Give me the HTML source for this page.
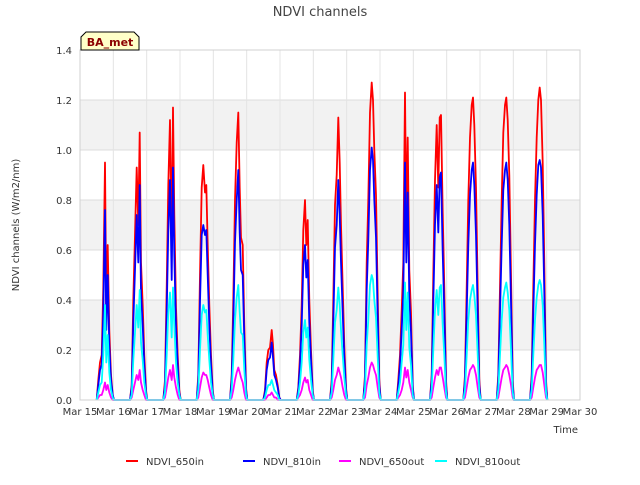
<!DOCTYPE html>
<html><head><meta charset="utf-8"><style>
body{margin:0;background:#fff;font-family:"Liberation Sans","DejaVu Sans",sans-serif}
svg text{font-family:"DejaVu Sans","Liberation Sans",sans-serif}
</style></head><body>
<svg id="chart" width="640" height="480">
<rect x="0" y="0" width="640" height="480" fill="#fff"/>
<text x="320" y="16" text-anchor="middle" font-size="13" fill="#444">NDVI channels</text>
<g id="grid"></g>
<g id="series"></g>
<g id="axes"></g>
<text x="19" y="225" transform="rotate(-90 19 225)" text-anchor="middle" font-size="10" fill="#333">NDVI channels (W/m2/nm)</text>
<text x="578" y="433" text-anchor="end" font-size="10" fill="#333">Time</text>
<g>
<path d="M81,50 L81,37 L86,32 L134,32 L139,37 L139,50 Z" fill="#ffffc8" stroke="#000" stroke-width="1"/>
<text x="110" y="46" text-anchor="middle" font-size="11" font-weight="bold" fill="#8b0000">BA_met</text>
</g>
<g id="legend"></g>
</svg>
<script>
const dayStarts=[15,16,17,18,19,20,21,22,23,24,25,26,27,28];
const offsets=[0.50,0.55,0.60,0.65,0.70,0.75,0.79,0.83,0.88,0.93,0.98,1.02];
const ndvi650in=[
[0,0.08,0.15,0.18,0.45,0.95,0.35,0.62,0.28,0.10,0.02,0],
[0,0.06,0.40,0.66,0.93,0.70,1.07,0.55,0.38,0.18,0.04,0],
[0,0.08,0.45,0.86,1.12,0.60,1.17,0.74,0.37,0.18,0.04,0],
[0,0.10,0.50,0.85,0.94,0.83,0.86,0.62,0.38,0.18,0.04,0],
[0,0.10,0.40,0.80,1.03,1.15,0.85,0.65,0.62,0.30,0.05,0],
[0,0.04,0.15,0.20,0.21,0.28,0.22,0.12,0.10,0.06,0.01,0],
[0,0.05,0.18,0.38,0.68,0.80,0.62,0.72,0.40,0.20,0.04,0],
[0,0.08,0.40,0.78,0.90,1.13,0.95,0.70,0.45,0.22,0.05,0],
[0,0.10,0.55,0.80,1.15,1.27,1.20,1.00,0.82,0.42,0.08,0],
[0,0.08,0.18,0.36,0.55,1.23,0.70,1.05,0.52,0.35,0.06,0],
[0,0.10,0.50,0.88,1.10,0.85,1.13,1.14,0.75,0.45,0.08,0],
[0,0.10,0.45,0.80,1.05,1.18,1.21,1.10,0.85,0.45,0.08,0],
[0,0.10,0.45,0.80,1.07,1.18,1.21,1.12,0.90,0.50,0.08,0],
[0,0.10,0.45,0.80,1.05,1.20,1.25,1.20,0.95,0.55,0.08,0]];
const ndvi810in=[
[0,0.06,0.12,0.14,0.35,0.76,0.28,0.50,0.22,0.08,0.02,0],
[0,0.05,0.31,0.52,0.74,0.55,0.86,0.43,0.30,0.14,0.03,0],
[0,0.06,0.35,0.68,0.88,0.48,0.93,0.58,0.29,0.14,0.03,0],
[0,0.08,0.39,0.66,0.70,0.66,0.68,0.50,0.30,0.14,0.03,0],
[0,0.08,0.31,0.63,0.80,0.92,0.67,0.52,0.50,0.24,0.04,0],
[0,0.03,0.12,0.16,0.17,0.23,0.17,0.10,0.08,0.05,0.01,0],
[0,0.04,0.14,0.30,0.54,0.62,0.49,0.56,0.31,0.16,0.03,0],
[0,0.06,0.31,0.61,0.70,0.88,0.74,0.55,0.35,0.17,0.04,0],
[0,0.08,0.44,0.64,0.92,1.01,0.96,0.80,0.65,0.33,0.06,0],
[0,0.06,0.14,0.28,0.43,0.95,0.55,0.83,0.41,0.27,0.05,0],
[0,0.08,0.39,0.70,0.86,0.67,0.89,0.91,0.59,0.35,0.06,0],
[0,0.08,0.35,0.62,0.82,0.92,0.95,0.86,0.66,0.35,0.06,0],
[0,0.08,0.35,0.62,0.84,0.92,0.95,0.88,0.70,0.39,0.06,0],
[0,0.08,0.35,0.62,0.82,0.94,0.96,0.93,0.74,0.43,0.06,0]];
const ndvi650out=[
[0,0.01,0.02,0.02,0.04,0.07,0.04,0.06,0.03,0.01,0,0],
[0,0.01,0.04,0.07,0.10,0.08,0.12,0.07,0.04,0.02,0,0],
[0,0.01,0.05,0.09,0.12,0.08,0.14,0.09,0.05,0.02,0,0],
[0,0.01,0.05,0.09,0.11,0.10,0.10,0.08,0.05,0.02,0,0],
[0,0.01,0.04,0.08,0.11,0.13,0.11,0.09,0.07,0.03,0,0],
[0,0,0.01,0.02,0.02,0.03,0.02,0.01,0.01,0,0,0],
[0,0.01,0.02,0.04,0.07,0.09,0.07,0.08,0.04,0.02,0,0],
[0,0.01,0.04,0.08,0.10,0.13,0.11,0.09,0.05,0.02,0,0],
[0,0.01,0.06,0.09,0.13,0.15,0.14,0.12,0.10,0.05,0.01,0],
[0,0.01,0.02,0.04,0.07,0.13,0.09,0.12,0.07,0.04,0.01,0],
[0,0.01,0.05,0.09,0.12,0.10,0.13,0.13,0.09,0.05,0.01,0],
[0,0.01,0.05,0.09,0.12,0.13,0.14,0.13,0.10,0.05,0.01,0],
[0,0.01,0.05,0.09,0.12,0.13,0.14,0.13,0.10,0.06,0.01,0],
[0,0.01,0.05,0.09,0.12,0.13,0.14,0.14,0.11,0.06,0.01,0]];
const ndvi810out=[
[0,0.03,0.06,0.07,0.18,0.38,0.15,0.26,0.11,0.04,0.01,0],
[0,0.02,0.16,0.27,0.38,0.29,0.44,0.23,0.16,0.07,0.02,0],
[0,0.03,0.18,0.35,0.43,0.25,0.45,0.30,0.15,0.07,0.02,0],
[0,0.04,0.20,0.34,0.38,0.35,0.36,0.26,0.16,0.07,0.02,0],
[0,0.04,0.16,0.32,0.41,0.46,0.35,0.27,0.26,0.12,0.02,0],
[0,0.01,0.04,0.06,0.06,0.08,0.06,0.04,0.03,0.02,0,0],
[0,0.02,0.07,0.15,0.27,0.32,0.25,0.29,0.16,0.08,0.02,0],
[0,0.03,0.16,0.31,0.36,0.45,0.38,0.28,0.18,0.09,0.02,0],
[0,0.04,0.22,0.32,0.46,0.50,0.48,0.40,0.33,0.17,0.03,0],
[0,0.03,0.07,0.15,0.22,0.47,0.28,0.43,0.21,0.14,0.02,0],
[0,0.04,0.20,0.36,0.44,0.34,0.45,0.46,0.30,0.18,0.03,0],
[0,0.04,0.18,0.32,0.40,0.44,0.46,0.42,0.34,0.18,0.03,0],
[0,0.04,0.18,0.32,0.41,0.45,0.47,0.43,0.36,0.20,0.03,0],
[0,0.04,0.18,0.32,0.41,0.46,0.48,0.46,0.38,0.22,0.03,0]];
const yTicks=[0,0.2,0.4,0.6,0.8,1.0,1.2,1.4];
const yTickLabels=["0.0","0.2","0.4","0.6","0.8","1.0","1.2","1.4"];
const xTickDays=[15,16,17,18,19,20,21,22,23,24,25,26,27,28,29,30];
const xTickLabels=["Mar 15","Mar 16","Mar 17","Mar 18","Mar 19","Mar 20","Mar 21","Mar 22","Mar 23","Mar 24","Mar 25","Mar 26","Mar 27","Mar 28","Mar 29","Mar 30"];
const seriesNames=["NDVI_650in","NDVI_810in","NDVI_650out","NDVI_810out"];
const seriesColors=["#ff0000","#0000ff","#ff00ff","#00ffff"];

const NS="http://www.w3.org/2000/svg";
const L=80,R=580,T=50,B=400;
const xs=d=>L+(d-15)/15*(R-L);
const ys=v=>B-v/1.4*(B-T);
function mk(tag,attrs,parent){const e=document.createElementNS(NS,tag);for(const k in attrs)e.setAttribute(k,attrs[k]);parent.appendChild(e);return e;}
const grid=document.getElementById('grid'),axes=document.getElementById('axes'),ser=document.getElementById('series'),leg=document.getElementById('legend');
for(let i=0;i<yTicks.length-1;i++){
  if(i%2===1){const b=mk('rect',{x:L,y:ys(yTicks[i+1]),width:R-L,height:ys(yTicks[i])-ys(yTicks[i+1]),fill:'#f2f2f2'},grid);
  
  }
}
yTicks.forEach((v,i)=>{
  const g=mk('line',{x1:L,x2:R,y1:ys(v),y2:ys(v),stroke:'#dcdcdc','stroke-width':1},grid);
  
  
  const t=mk('text',{x:L-8,y:ys(v)+4,'text-anchor':'end','font-size':10,fill:'#333'},axes);
  t.textContent=yTickLabels[i];
  
  
});
xTickDays.forEach((d,i)=>{
  const g=mk('line',{x1:xs(d),x2:xs(d),y1:T,y2:B,stroke:'#e4e4e4','stroke-width':1},grid);
  
  
  const t=mk('text',{x:xs(d),y:B+15,'text-anchor':'middle','font-size':10,fill:'#333'},axes);
  t.textContent=xTickLabels[i];
  
  
});
const fr=mk('rect',{x:L,y:T,width:R-L,height:B-T,fill:'none',stroke:'#d0d0d0'},axes);


[ndvi650in,ndvi810in,ndvi650out,ndvi810out].forEach((rows,si)=>{
  let pts=[];
  rows.forEach((row,di)=>{row.forEach((v,k)=>{pts.push(xs(dayStarts[di]+offsets[k]).toFixed(1)+','+ys(v).toFixed(1));});});
  const p=mk('polyline',{points:pts.join(' '),fill:'none',stroke:seriesColors[si],'stroke-width':1.8,'stroke-linejoin':'round'},ser);
  
  
});
const legX=[126,243,339,435];
seriesNames.forEach((n,i)=>{
  const g=mk('g',{},leg);
  
  
  mk('line',{x1:legX[i],x2:legX[i]+12,y1:461,y2:461,stroke:seriesColors[i],'stroke-width':2},g);
  const t=mk('text',{x:legX[i]+20,y:465,'font-size':10,fill:'#333'},g);
  t.textContent=n;
});
</script>
</body></html>
